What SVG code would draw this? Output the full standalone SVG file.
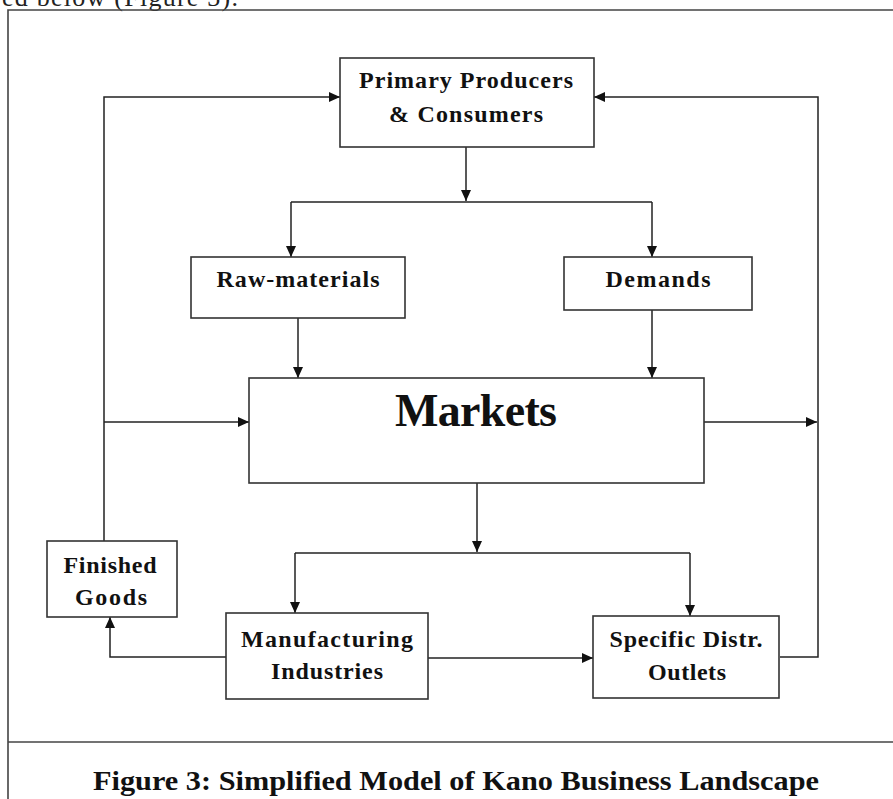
<svg xmlns="http://www.w3.org/2000/svg" width="893" height="799" viewBox="0 0 893 799">
<style>
  .box { fill: #ffffff; stroke: #333333; stroke-width: 1.6; }
  .lbl { font-family: "Liberation Serif", "Times New Roman", serif; font-weight: bold; font-size: 24px; fill: #111111; text-anchor: middle; }
  .big { font-family: "Liberation Serif", "Times New Roman", serif; font-weight: bold; font-size: 46px; fill: #111111; text-anchor: middle; }
  .cap { font-family: "Liberation Serif", "Times New Roman", serif; font-weight: bold; font-size: 28px; fill: #111111; }
  .frame { fill: none; stroke: #444444; stroke-width: 1.6; }
  .conn path { fill: none; stroke: #222222; stroke-width: 1.5; }
</style>
<defs>
  <marker id="ah" markerUnits="userSpaceOnUse" markerWidth="12" markerHeight="10" refX="11" refY="5" orient="auto">
    <path d="M0,0 L11,5 L0,10 z" fill="#111111"/>
  </marker>
</defs>
<rect x="0" y="0" width="893" height="799" fill="#ffffff"/>
<text x="2" y="6" font-family="Liberation Serif, serif" font-size="26" fill="#222" textLength="236">ed below (Figure 3).</text>
<g id="frame">
  <path class="frame" d="M8,799 V10 H893"/>
  <path class="frame" d="M8,742 H893"/>
</g>
<g id="connectors" class="conn">
  <path d="M466,147 V201" marker-end="url(#ah)"/>
  <path d="M291,202 H652"/>
  <path d="M291,202 V257" marker-end="url(#ah)"/>
  <path d="M652,202 V257" marker-end="url(#ah)"/>
  <path d="M298,318 V378" marker-end="url(#ah)"/>
  <path d="M652,310 V378" marker-end="url(#ah)"/>
  <path d="M104,541 V97 H340" marker-end="url(#ah)"/>
  <path d="M104,422 H249" marker-end="url(#ah)"/>
  <path d="M704,422 H817" marker-end="url(#ah)"/>
  <path d="M780,657 H818 V97 H594" marker-end="url(#ah)"/>
  <path d="M477,483 V552" marker-end="url(#ah)"/>
  <path d="M295,553 H690"/>
  <path d="M295,553 V613" marker-end="url(#ah)"/>
  <path d="M690,553 V616" marker-end="url(#ah)"/>
  <path d="M226,657 H110 V617" marker-end="url(#ah)"/>
  <path d="M428,658 H593" marker-end="url(#ah)"/>
</g>
<g id="primary">
  <rect class="box" x="340" y="58" width="254" height="89"/>
  <text class="lbl" x="466" y="88" textLength="214">Primary Producers</text>
  <text class="lbl" x="466" y="122" textLength="154">&amp; Consumers</text>
</g>
<g id="raw">
  <rect class="box" x="191" y="257" width="214" height="61"/>
  <text class="lbl" x="298" y="287" textLength="163">Raw-materials</text>
</g>
<g id="demands">
  <rect class="box" x="564" y="257" width="188" height="53"/>
  <text class="lbl" x="658" y="287" textLength="105">Demands</text>
</g>
<g id="markets">
  <rect class="box" x="249" y="378" width="455" height="105"/>
  <text class="big" x="476" y="426" textLength="162">Markets</text>
</g>
<g id="finished">
  <rect class="box" x="47" y="541" width="130" height="76"/>
  <text class="lbl" x="110" y="573" textLength="93">Finished</text>
  <text class="lbl" x="111" y="605" textLength="72">Goods</text>
</g>
<g id="manufacturing">
  <rect class="box" x="226" y="613" width="202" height="86"/>
  <text class="lbl" x="327" y="647" textLength="172">Manufacturing</text>
  <text class="lbl" x="327" y="679" textLength="112">Industries</text>
</g>
<g id="specific">
  <rect class="box" x="593" y="616" width="186" height="82"/>
  <text class="lbl" x="686" y="647" textLength="153">Specific Distr.</text>
  <text class="lbl" x="687" y="680" textLength="78">Outlets</text>
</g>
<text class="cap" x="93" y="790" textLength="726" lengthAdjust="spacingAndGlyphs">Figure 3: Simplified Model of Kano Business Landscape</text>
</svg>
